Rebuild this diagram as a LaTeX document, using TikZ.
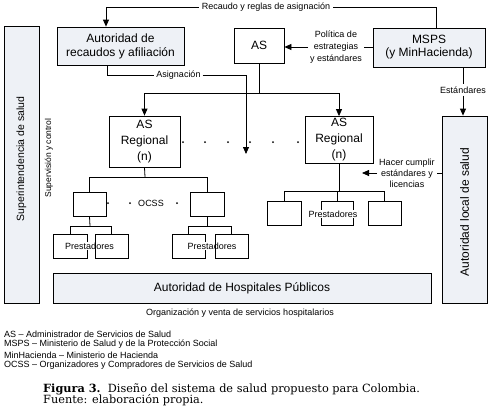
\documentclass[tikz,border=0pt]{standalone}
\usepackage{fontspec}
\setmainfont{Liberation Sans}
\newfontfamily\capfont{DejaVu Serif}
\usetikzlibrary{arrows.meta,calc}
\definecolor{boxfill}{RGB}{238,241,246}
\begin{document}
\begin{tikzpicture}[x=1pt,y=-1pt,
 box/.style={draw, line width=0.8pt, inner sep=0pt, align=center},
 bigbox/.style={box, fill=boxfill, font=\fontsize{12}{14}\selectfont},
 plainbox/.style={box, fill=white, font=\fontsize{12}{14}\selectfont},
 smallbox/.style={box, fill=white, minimum height=24pt},
 lbl/.style={font=\fontsize{9}{11}\selectfont, align=center, inner sep=2pt, fill=white},
 arr/.style={line width=0.8pt, -{Triangle[length=7pt,width=6pt]}},
 ln/.style={line width=0.8pt},
 legend/.style={anchor=west, inner sep=0pt, font=\fontsize{9}{11}\selectfont}
]
\useasboundingbox (0,0) rectangle (495,413);

% main boxes
\node[bigbox, minimum width=127pt, minimum height=38pt] (rec) at (120.5,46) {Autoridad de\\recaudos y afiliación};
\node[plainbox, minimum width=50pt, minimum height=35pt] (as) at (259,45.5) {AS};
\node[bigbox, minimum width=112pt, minimum height=39pt, font=\fontsize{12}{13}\selectfont] (msps) at (429,47.5) {MSPS\\(y MinHacienda)};
\node[bigbox, minimum width=35pt, minimum height=277pt] (sup) at (21.5,164.5) {};
\node[rotate=90, inner sep=0pt, font=\fontsize{10.5}{12}\selectfont] (suptxt) at (21.5,159) {Superintendencia de salud};
\node[bigbox, minimum width=45pt, minimum height=187pt] (loc) at (464.5,209.5) {};
\node[rotate=90, inner sep=0pt, font=\fontsize{12}{14}\selectfont] (loctxt) at (464.5,212) {Autoridad local de salud};
\node[bigbox, minimum width=378pt, minimum height=30pt] (hosp) at (242,288) {Autoridad de Hospitales Públicos};
\node[plainbox, minimum width=71pt, minimum height=51pt, font=\fontsize{12}{16}\selectfont] (asr1) at (144.5,141.5) {AS\\Regional\\(n)};
\node[plainbox, minimum width=68pt, minimum height=47pt, font=\fontsize{12}{16}\selectfont] (asr2) at (339,140) {AS\\Regional\\(n)};

% OCSS boxes
\node[smallbox, minimum width=33pt] (ocss1) at (89.5,204) {};
\node[smallbox, minimum width=34pt] (ocss2) at (207,204) {};
\node[inner sep=0pt, font=\fontsize{9}{11}\selectfont] (ocsstxt) at (151,203) {OCSS};

% Prestadores groups
\node[smallbox, minimum width=34pt] (p1a) at (70,246) {};
\node[inner sep=1pt, fill=white, font=\fontsize{9}{11}\selectfont] (p1txt) at (89.5,246) {Prestadores};
\node[box, minimum width=33pt, minimum height=24pt] (p1b) at (111.5,246) {};
\node[smallbox, minimum width=33pt] (p2a) at (188.5,246) {};
\node[inner sep=1pt, fill=white, font=\fontsize{9}{11}\selectfont] (p2txt) at (212,246) {Prestadores};
\node[box, minimum width=33pt, minimum height=24pt] (p2b) at (231.5,246) {};
\node[smallbox, minimum width=34pt] (r1) at (284,213) {};
\node[smallbox, minimum width=32pt] (r2) at (337,213) {};
\node[inner sep=1pt, fill=white, font=\fontsize{9}{11}\selectfont] (r2txt) at (333,214) {Prestadores};
\node[smallbox, minimum width=33pt] (r3) at (384.5,213) {};

% labels
\node[lbl, inner sep=3pt] (rtxt) at (266,7.5) {Recaudo y reglas de asignación};
\node[lbl] (asig) at (178.5,75) {Asignación};
\node[lbl, font=\fontsize{9}{12}\selectfont] (pol) at (336,47) {Política de\\estrategias\\y estándares};
\node[lbl] (est) at (463,90) {Estándares};
\node[lbl] (hc) at (407,173) {Hacer cumplir\\estándares y\\licencias};
\node[rotate=90, inner sep=0pt, font=\fontsize{8.5}{10}\selectfont] (supv) at (49,158) {Supervisión y control};
\node[inner sep=0pt, font=\fontsize{9}{11}\selectfont] (org) at (240,313) {Organización y venta de servicios hospitalarios};

% connectors
\draw[ln] ([xshift=7pt]msps.north) |- (rtxt.east);
\draw[arr] (rtxt.west) -| ([xshift=-14.5pt]rec.north);
\coordinate (asgend) at (246,154);
\draw[ln] ([xshift=-13.5pt]rec.south) |- (asig.west);
\draw[arr] (asig.east) -| (asgend);
\coordinate (asj) at (259,93);
\draw[ln] (as.south) -- (asj);
\draw[arr] (asj) -| (asr1.north);
\draw[arr] (asj) -| (asr2.north);
\draw[ln] (msps.west |- pol) -- (pol.east);
\draw[arr] (pol.west) -- (as.east |- pol);
\draw[ln] (est |- msps.south) -- (est.north);
\draw[arr] (est.south) -- (est |- loc.north);
\coordinate (hcend) at (362,173);
\draw[ln] (loc.west |- hc) -- (hc.east);
\draw[arr] (hc.west) -- (hcend);

% trees
\coordinate (t1) at (145,177);
\draw[ln] (asr1.south) -- (t1);
\draw[ln] (t1) -| (ocss1.north);
\draw[ln] (t1) -| (ocss2.north);
\coordinate (t2) at (90,226);
\draw[ln] (ocss1.south) -- (t2);
\draw[ln] (t2) -| (p1a.north);
\draw[ln] (t2) -| (p1b.north);
\coordinate (t3) at (207,226);
\draw[ln] (ocss2.south) -- (t3);
\draw[ln] (t3) -| (p2a.north);
\draw[ln] (t3) -| (p2b.north);
\coordinate (t4) at (339,191);
\draw[ln] (asr2.south) -- (t4);
\draw[ln] (t4) -| (r1.north);
\draw[ln] (t4) -| (r2.north);
\draw[ln] (t4) -| (r3.north);

% dots
\foreach \x in {183,205,228,250,273,298} \fill (\x,142) circle (1pt);
\foreach \x in {108,130,177} \fill (\x,203) circle (1pt);

% legend
\node[legend] (l1) at (4,334) {AS – Administrador de Servicios de Salud};
\node[legend] (l2) at (4,344.5) {MSPS – Ministerio de Salud y de la Protección Social};
\node[legend] (l3) at (4,355) {MinHacienda – Ministerio de Hacienda};
\node[legend] (l4) at (4,365.5) {OCSS – Organizadores y Compradores de Servicios de Salud};

% caption
\node[anchor=west, inner sep=0pt, font=\capfont\fontsize{11.3}{13}\selectfont] (cap1) at (43,389) {\textbf{Figura 3.}\ \ Diseño del sistema de salud propuesto para Colombia.};
\node[anchor=west, inner sep=0pt, font=\capfont\fontsize{11.3}{13}\selectfont] (cap2) at (43,400) {Fuente: elaboración propia.};
\end{tikzpicture}
\end{document}
